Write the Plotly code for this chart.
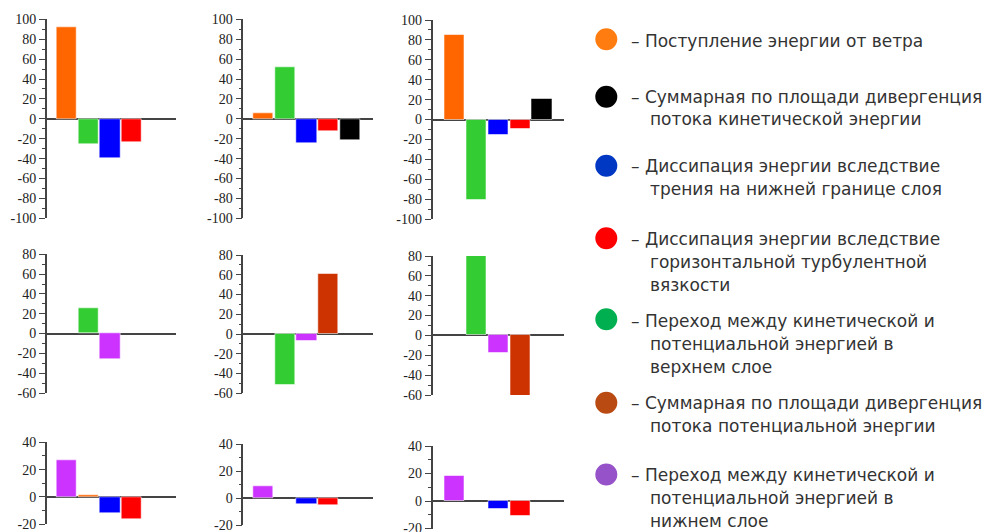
import plotly.graph_objects as go

W, H = 990, 532
OFF = 8  # page body margin in the browser

# ---------------- data ----------------
series_keys = ["wind", "ke_div", "friction", "turb", "upper", "pe_div", "lower"]
legend_lines = [
    ["– Поступление энергии от ветра"],
    ["– Суммарная по площади дивергенция", "потока кинетической энергии"],
    ["– Диссипация энергии вследствие", "трения на нижней границе слоя"],
    ["– Диссипация энергии вследствие", "горизонтальной турбулентной", "вязкости"],
    ["– Переход между кинетической и", "потенциальной энергией в", "верхнем слое"],
    ["– Суммарная по площади дивергенция", "потока потенциальной энергии"],
    ["– Переход между кинетической и", "потенциальной энергией в", "нижнем слое"],
]
bar_colors = {"wind": "#FF6600", "ke_div": "#000000", "friction": "#0000FF", "turb": "#FF0000",
              "upper": "#33CC33", "pe_div": "#CC3300", "lower": "#CC33FF"}
legend_colors = {"wind": "#FF7C10", "ke_div": "#000000", "friction": "#0038C4", "turb": "#FF0000",
                 "upper": "#00B050", "pe_div": "#B84A12", "lower": "#9652C8"}

# each panel: series in slot order (None = empty slot) and values
p1_series = ["wind", "upper", "friction", "turb"]
p1_values = [92, -26, -40, -24]
p2_series = ["wind", "upper", "friction", "turb", "ke_div"]
p2_values = [6, 52, -24.5, -12.5, -21.5]
p3_series = ["wind", "upper", "friction", "turb", "ke_div"]
p3_values = [85, -81, -16, -10, 21]
p4_series = [None, "upper", "lower"]
p4_values = [None, 26, -26]
p5_series = [None, "upper", "lower", "pe_div"]
p5_values = [None, -52, -7.5, 61]
p6_series = [None, "upper", "lower", "pe_div"]
p6_values = [None, 81, -18, -60.5]
p7_series = ["lower", "wind", "friction", "turb"]
p7_values = [26.5, 1, -12, -16]
p8_series = ["lower", None, "friction", "turb"]
p8_values = [8.5, None, -4.5, -5.5]
p9_series = ["lower", None, "friction", "turb"]
p9_values = [18.5, None, -6, -11]

# y tick labels per row (hyphen-minus as in the original)
row1_ticks = [-100, -80, -60, -40, -20, 0, 20, 40, 60, 80, 100]
row2_ticks = [-60, -40, -20, 0, 20, 40, 60, 80]
row3_ticks = [-20, 0, 20, 40]
row_ticks = [row1_ticks, row2_ticks, row3_ticks]
row_ranges = [[-100, 100], [-60, 80], [-20, 40]]

panels = [(p1_series, p1_values), (p2_series, p2_values), (p3_series, p3_values),
          (p4_series, p4_values), (p5_series, p5_values), (p6_series, p6_values),
          (p7_series, p7_values), (p8_series, p8_values), (p9_series, p9_values)]

# ---------------- layout geometry (screen pixels) ----------------
col_px = [(46.7, 175.9), (243.3, 372.5), (432.5, 563.9)]
col_xrange = [[0.1, 6], [0.1, 6], [0, 6]]
panel_ypx = [(19.3, 218.3), (19.3, 218.3), (20, 219),
             (254.3, 393), (255, 393.3), (256, 395),
             (442.3, 524.3), (444.3, 525), (446, 528.5)]


def fx(px):
    return (px - OFF) / W


def fy(py):
    return 1 - (py - OFF) / H


fig = go.Figure()
axis_color = "#444444"
tick_font = dict(family="Liberation Serif", size=14, color="#222222")

for i, (ser, vals) in enumerate(panels):
    r, c = divmod(i, 3)
    n = i + 1
    xs = [k + 1 for k, s in enumerate(ser) if s is not None]
    ys = [v for s, v in zip(ser, vals) if s is not None]
    cols = [bar_colors[s] for s in ser if s is not None]
    fig.add_trace(go.Bar(
        x=xs, y=ys, width=0.92,
        marker=dict(color=cols, line=dict(color="rgba(255,255,255,0.55)", width=1)),
        xaxis=f"x{n}", yaxis=f"y{n}", showlegend=False, hoverinfo="y",
    ))
    xa = dict(domain=[fx(col_px[c][0]), fx(col_px[c][1])], range=col_xrange[c],
              visible=False, anchor=f"y{n}", fixedrange=True, automargin=False)
    ytop, ybot = panel_ypx[i]
    ya = dict(domain=[fy(ybot), fy(ytop)], range=row_ranges[r], anchor=f"x{n}",
              showline=True, linecolor=axis_color, linewidth=1.5,
              ticks="outside", ticklen=6, tickwidth=1.2, tickcolor=axis_color,
              tickvals=row_ticks[r], ticktext=[str(t) for t in row_ticks[r]],
              tickfont=tick_font, showgrid=False,
              minor=dict(dtick=10, tick0=0, ticks="outside", ticklen=3, tickcolor=axis_color,
                         tickwidth=1.2, showgrid=False),
              zeroline=True, zerolinecolor=axis_color, zerolinewidth=1.5,
              fixedrange=True, automargin=False)
    fig.layout[f"xaxis{n}" if n > 1 else "xaxis"] = xa
    fig.layout[f"yaxis{n}" if n > 1 else "yaxis"] = ya

# ---------------- legend (circles + text) ----------------
circle_y = [39.3, 96.7, 165.7, 238.3, 319.3, 402.7, 474.5]
line_y = [[40.7], [97.3, 119.3], [165.7, 188.8], [239.3, 261.9, 284.8],
          [320.7, 343.5, 366.5], [403.3, 426], [475, 497.7, 520.7]]
cx, rad = 606.3, 11
text_font = dict(family="DejaVu Sans", size=17, color="#333333")
for k, key in enumerate(series_keys):
    fig.add_shape(type="circle", xref="paper", yref="paper",
                  x0=fx(cx - rad), x1=fx(cx + rad), y0=fy(circle_y[k] + rad), y1=fy(circle_y[k] - rad),
                  fillcolor=legend_colors[key], line=dict(width=0))
    for j, txt in enumerate(legend_lines[k]):
        fig.add_annotation(text=txt, xref="paper", yref="paper",
                           x=fx(629 if j == 0 else 647.5), y=fy(line_y[k][j]),
                           xanchor="left", yanchor="middle", showarrow=False,
                           font=text_font)

fig.update_layout(template="none", width=W, height=H, margin=dict(l=0, r=0, t=0, b=0, pad=0),
                  paper_bgcolor="white", plot_bgcolor="white", bargap=0)

fig.write_html("out.html")
